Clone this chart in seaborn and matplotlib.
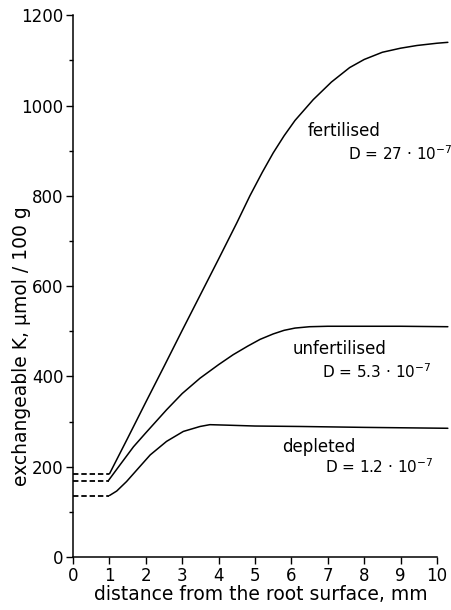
import matplotlib
matplotlib.use("Agg")
import matplotlib.pyplot as plt
import seaborn as sns
import pandas as pd
from matplotlib.ticker import MultipleLocator

# ---- data ----
fert_x = [1.0, 1.5, 2.0, 2.5, 3.0, 3.5, 4.0, 4.5, 4.86, 5.2, 5.5, 5.8, 6.1, 6.6, 7.1, 7.6, 8.0, 8.5, 9.0, 9.45, 10.0, 10.3]
fert_y = [184, 263, 343, 422, 502, 581, 660, 740, 800, 852, 895, 933, 967, 1013, 1052, 1084, 1102, 1118, 1127, 1133, 1138, 1140]

unf_x = [0.97, 1.3, 1.66, 2.0, 2.57, 3.0, 3.49, 4.0, 4.4, 4.8, 5.14, 5.5, 5.8, 6.1, 6.5, 7.0, 8.0, 9.0, 10.3]
unf_y = [169, 205, 244, 275, 326, 362, 396, 426, 448, 467, 482, 494, 502, 507, 510, 511, 511, 511, 510]

dep_x = [1.0, 1.2, 1.47, 1.8, 2.12, 2.57, 3.03, 3.49, 3.76, 4.2, 5.0, 6.24, 8.0, 10.3]
dep_y = [136, 146, 167, 197, 226, 256, 278, 289, 293, 292, 290, 289, 287, 285]

dash_x = [0, 1]
dash_levels = [184, 169, 136]

label_names = ["fertilised", "unfertilised", "depleted"]
label_D = ["D = 27 · 10$^{-7}$", "D = 5.3 · 10$^{-7}$", "D = 1.2 · 10$^{-7}$"]
name_pos = [(6.46, 944), (6.04, 460), (5.74, 244)]
d_pos = [(7.55, 893), (6.84, 411), (6.92, 200)]

x_ticks = list(range(0, 11))
y_ticks = [0, 200, 400, 600, 800, 1000, 1200]

sns.set_theme(style="ticks")
plt.rcParams['font.family'] = ['DejaVu Sans']
plt.rcParams['mathtext.fontset'] = 'dejavusans'

fig = plt.figure(figsize=(4.51, 6.10), dpi=100)
ax = fig.add_axes([0.162, 0.087, 0.831, 0.888])

curves = pd.concat([
    pd.DataFrame({"x": fert_x, "y": fert_y, "s": "fertilised"}),
    pd.DataFrame({"x": unf_x, "y": unf_y, "s": "unfertilised"}),
    pd.DataFrame({"x": dep_x, "y": dep_y, "s": "depleted"}),
])
sns.lineplot(data=curves, x="x", y="y", units="s", estimator=None,
             color="black", lw=1.1, ax=ax, legend=False, sort=False)

dash_df = pd.concat([pd.DataFrame({"x": dash_x, "y": [lv, lv], "s": i})
                     for i, lv in enumerate(dash_levels)])
sns.lineplot(data=dash_df, x="x", y="y", units="s", estimator=None,
             color="black", lw=1.3, ax=ax, legend=False, linestyle=(0, (3, 1.6)))

for line in ax.get_lines():
    line.set_clip_on(False)

for name, (nx, ny) in zip(label_names, name_pos):
    ax.text(nx, ny, name, fontsize=12, ha="left", va="center", color="black")
for dtxt, (dx, dy) in zip(label_D, d_pos):
    ax.text(dx, dy, dtxt, fontsize=11, ha="left", va="center", color="black")

ax.set_xlim(0, 10.3)
ax.set_ylim(0, 1200)
ax.set_xticks(x_ticks)
ax.set_yticks(y_ticks)
ax.yaxis.set_minor_locator(MultipleLocator(100))
ax.tick_params(axis="both", which="major", direction="out", length=5, width=1,
               labelsize=12, colors="black", pad=2)
ax.tick_params(axis="y", which="minor", direction="out", length=3, width=1, colors="black")
for s in ["top", "right"]:
    ax.spines[s].set_visible(False)
for s in ["left", "bottom"]:
    ax.spines[s].set_color("black")
    ax.spines[s].set_linewidth(1.1)
ax.spines["bottom"].set_bounds(0, 10)

ax.set_xlabel("distance from the root surface, mm", fontsize=13.5, labelpad=0, color="black")
ax.set_ylabel("exchangeable K, μmol / 100 g", fontsize=13.5, color="black")
ax.yaxis.set_label_coords(-0.112, 0.39)
ax.set_facecolor("white")
fig.patch.set_facecolor("white")

fig.savefig("out.png", dpi=100, facecolor="white")
